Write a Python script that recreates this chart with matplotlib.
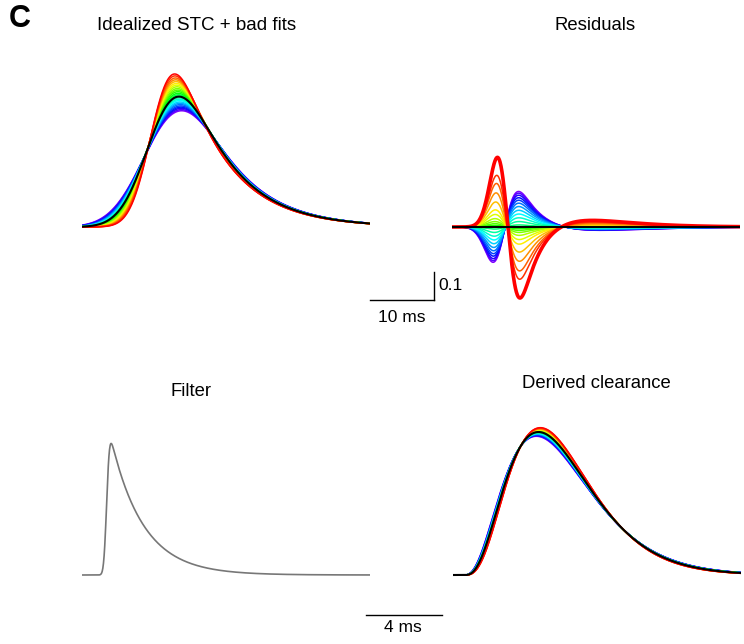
import math

import numpy as np
import matplotlib
matplotlib.use("Agg")
import matplotlib.pyplot as plt
from matplotlib.colors import hsv_to_rgb

plt.rcParams["font.family"] = ["Liberation Sans", "DejaVu Sans"]

# Idealized STC (ex-Gaussian) and the widths of the bad fits, red -> violet.
stc_mu = 11.3          # ms
stc_tau = 7.5          # ms
stc_area = 7.4
stc_ideal_sigma = 3.8  # ms
stc_sigmas = [2.70, 2.78, 2.87, 2.95, 3.03, 3.12, 3.20, 3.28, 3.37, 3.45,
              3.53, 3.62, 3.70, 3.78, 3.87, 3.95, 4.03, 4.12, 4.20, 4.28,
              4.37, 4.45, 4.53, 4.62, 4.70]

# Residuals: time scaling of each fit around a fixed centre.
res_mu = 7.8
res_sigma = 1.6
res_tau = 5.3
res_center = 12.2
res_area = 12.0
res_ideal_scale = 1.0
res_scales = [1.17, 1.125, 1.105, 1.082, 1.06, 1.041, 1.03, 1.02, 1.013,
              1.008, 1.004, 1.002, 1.0005, 0.995, 0.987, 0.978, 0.969, 0.96,
              0.951, 0.943, 0.936, 0.93, 0.924, 0.919, 0.915]

# Filter kernel.
filter_mu = 1.3
filter_sigma = 0.12
filter_tau = 1.7
filter_peak = 0.92

# Derived clearance (gamma shaped), shape parameter of each fit.
clear_onset = 0.6
clear_mean = 5.2
clear_peak = 1.0
clear_ideal_shape = 4.0
clear_shapes = [4.33, 4.30, 4.27, 4.24, 4.22, 4.19, 4.16, 4.14, 4.11, 4.08,
                4.06, 4.03, 4.00, 3.98, 3.95, 3.92, 3.90, 3.87, 3.84, 3.82,
                3.79, 3.76, 3.74, 3.71, 3.68]

erf = np.vectorize(math.erf)


def ex_gauss(t, mu, sigma, tau):
    u = t - mu
    z = u / sigma - sigma / tau
    cdf = 0.5 * (1.0 + erf(z / math.sqrt(2.0)))
    return np.exp(-u / tau + sigma ** 2 / (2 * tau ** 2)) * cdf / tau


def gamma_pdf(t, onset, k, theta):
    x = np.clip((t - onset) / theta, 0, None)
    return x ** (k - 1) * np.exp(-x) / (math.gamma(k) * theta)


def res_ideal(t):
    return res_area * ex_gauss(t, res_mu, res_sigma, res_tau)


def residual(t, s):
    fit = s * res_ideal(res_center + s * (t - res_center))
    return res_ideal(t) - fit


W, H = 744, 644
fig = plt.figure(figsize=(W / 100, H / 100), dpi=100)


def px_axes(left, top, width, height):
    ax = fig.add_axes([left / W, 1 - (top + height) / H, width / W, height / H])
    ax.axis("off")
    return ax


# Rainbow from red to violet.
hues = np.linspace(0, 0.75, len(stc_sigmas))
colors = hsv_to_rgb(np.column_stack([hues, np.ones_like(hues),
                                     np.ones_like(hues)]))

# Top row: 6.4 px per ms, 280 px per unit.
t_top = np.linspace(0, 45, 900)
ax1 = px_axes(82, 59, 288, 294)
ax2 = px_axes(452, 59, 288, 294)
for ax in (ax1, ax2):
    ax.set_xlim(0, 45)
    ax.set_ylim(-0.45, 0.6)

for sigma, c in reversed(list(zip(stc_sigmas, colors))):
    ax1.plot(t_top, stc_area * ex_gauss(t_top, stc_mu, sigma, stc_tau),
             color=c, lw=1.1)
ax1.plot(t_top, stc_area * ex_gauss(t_top, stc_mu, stc_ideal_sigma, stc_tau),
         color="k", lw=1.5)

for i, (s, c) in reversed(list(enumerate(zip(res_scales, colors)))):
    ax2.plot(t_top, residual(t_top, s), color=c, lw=2.6 if i == 0 else 1.1)
ax2.plot(t_top, residual(t_top, res_ideal_scale), color="k", lw=1.5)

# Scale bars: 10 ms, 0.1.
ax1.plot([45, 55], [-0.26, -0.26], color="k", lw=1.0, clip_on=False)
ax1.plot([55, 55], [-0.26, -0.16], color="k", lw=1.0, clip_on=False)

# Bottom row: 19 px per ms, 143 px per unit.
t_bot = np.linspace(0, 15.16, 900)
ax3 = px_axes(82, 403.4, 288, 221.65)
ax4 = px_axes(453, 403.4, 288, 221.65)
for ax in (ax3, ax4):
    ax.set_xlim(0, 15.16)
    ax.set_ylim(-0.35, 1.2)

kernel = ex_gauss(t_bot, filter_mu, filter_sigma, filter_tau)
ax3.plot(t_bot, filter_peak * kernel / kernel.max(), color="#777777", lw=1.2)

ideal_clear = gamma_pdf(t_bot, clear_onset, clear_ideal_shape,
                        clear_mean / clear_ideal_shape)
clear_amp = clear_peak / ideal_clear.max()
for k, c in reversed(list(zip(clear_shapes, colors))):
    ax4.plot(t_bot, clear_amp * gamma_pdf(t_bot, clear_onset, k, clear_mean / k),
             color=c, lw=1.1)
ax4.plot(t_bot, clear_amp * ideal_clear, color="k", lw=1.5)

# Scale bar: 4 ms.
ax3.plot([14.95, 18.95], [-0.28, -0.28], color="k", lw=1.0, clip_on=False)


def label(x, y, s, **kw):
    fig.text(x / W, 1 - y / H, s, **kw)


label(20, 19, "C", fontsize=22, fontweight="bold", ha="center", va="center")
label(197, 25, "Idealized STC + bad fits", fontsize=13.5, ha="center", va="center")
label(595, 25, "Residuals", fontsize=13.3, ha="center", va="center")
label(191, 392, "Filter", fontsize=13.3, ha="center", va="center")
label(596, 383, "Derived clearance", fontsize=13.3, ha="center", va="center")
label(402, 317, "10 ms", fontsize=12.5, ha="center", va="center")
label(438, 285, "0.1", fontsize=12.5, ha="left", va="center")
label(403, 628, "4 ms", fontsize=12.5, ha="center", va="center")

fig.savefig("out.png", dpi=100)
